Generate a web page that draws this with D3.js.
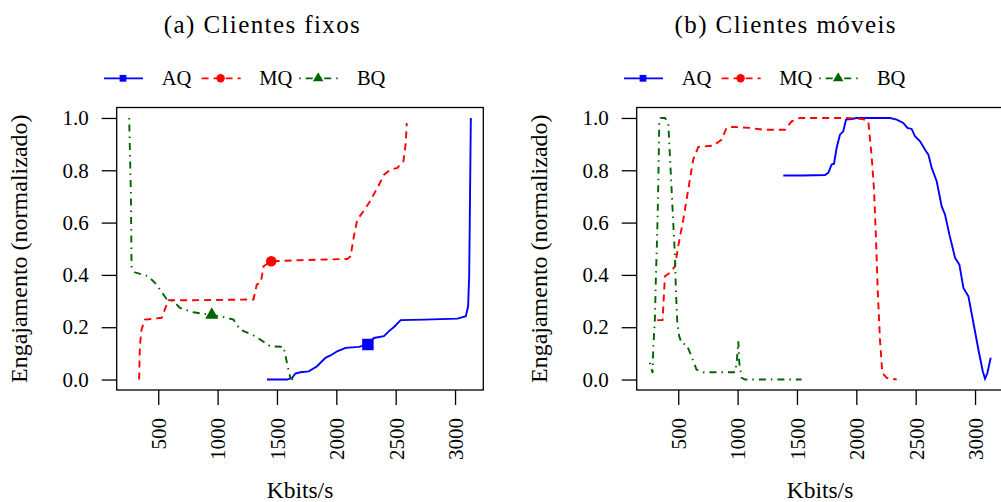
<!DOCTYPE html>
<html>
<head>
<meta charset="utf-8">
<script src="https://cdn.jsdelivr.net/npm/d3@7"></script>
<style>
  body { margin: 0; background: #fff; }
</style>
</head>
<body>
<script>
// values (x in Kbits/s, y = normalised engagement)
var series_names = ["AQ", "MQ", "BQ"];
var panel_titles = ["(a) Clientes fixos", "(b) Clientes móveis"];
var x_ticks = [500, 1000, 1500, 2000, 2500, 3000];
var y_ticks = [0, 0.2, 0.4, 0.6, 0.8, 1.0];

var fixos_aq = [[1416,0],[1584,0],[1627,0.006],[1655,0.023],[1697,0.028],[1768,0.031],[1838,0.051],
  [1908,0.083],[1951,0.092],[2007,0.108],[2078,0.121],[2190,0.125],[2266,0.134],[2317,0.159],
  [2401,0.166],[2444,0.185],[2486,0.201],[2542,0.227],[2739,0.229],[3021,0.233],[3091,0.242],
  [3110,0.280],[3119,0.395],[3124,0.599],[3133,1.0]];
var fixos_mq = [[339,0],[345,0.127],[359,0.191],[387,0.229],[528,0.236],[556,0.268],[584,0.303],
  [768,0.303],[1302,0.306],[1330,0.363],[1364,0.372],[1387,0.433],[1452,0.452],[1669,0.456],
  [2092,0.461],[2120,0.471],[2148,0.548],[2176,0.611],[2218,0.637],[2275,0.675],[2345,0.732],
  [2402,0.783],[2458,0.803],[2514,0.809],[2565,0.834],[2585,0.904],[2593,0.981]];
var fixos_bq = [[255,1.0],[270,0.70],[275,0.433],[303,0.41],[415,0.395],[472,0.37],[514,0.344],
  [570,0.308],[627,0.30],[683,0.274],[796,0.257],[951,0.247],[1077,0.236],[1134,0.229],
  [1190,0.191],[1317,0.166],[1444,0.127],[1556,0.125],[1590,0.051],[1613,0.006],[1635,0]];
var fixos_markers = [[2266,0.134],[1452,0.452],[951,0.247]];

var moveis_aq = [[1385,0.780],[1553,0.780],[1736,0.782],[1764,0.790],[1792,0.822],[1812,0.825],
  [1834,0.885],[1862,0.936],[1890,0.949],[1913,0.994],[1961,0.996],[2003,1.0],[2284,1.0],
  [2340,0.994],[2396,0.981],[2430,0.962],[2466,0.958],[2494,0.930],[2537,0.911],[2587,0.873],
  [2607,0.860],[2635,0.809],[2677,0.758],[2719,0.662],[2747,0.631],[2784,0.554],[2832,0.465],
  [2868,0.439],[2902,0.350],[2944,0.318],[2986,0.217],[3028,0.115],[3065,0.032],[3084,0.003],
  [3104,0.025],[3132,0.083]];
var moveis_mq = [[323,0.227],[368,0.227],[388,0.395],[430,0.408],[472,0.433],[500,0.510],
  [542,0.611],[584,0.726],[626,0.841],[669,0.889],[795,0.894],[865,0.917],[907,0.962],
  [963,0.966],[1104,0.962],[1216,0.955],[1399,0.955],[1455,0.987],[1525,1.0],[1722,1.0],
  [1919,1.0],[2053,0.996],[2101,0.987],[2129,0.854],[2149,0.726],[2166,0.535],[2180,0.344],
  [2199,0.153],[2219,0.025],[2256,0.006],[2340,0]];
var moveis_bq = [[261,0.064],[284,0.025],[289,0.115],[303,0.229],[312,0.395],[323,0.561],
  [331,0.726],[340,0.981],[351,1.0],[388,1.0],[416,0.981],[430,0.854],[444,0.726],[458,0.599],
  [472,0.471],[480,0.344],[492,0.217],[508,0.166],[528,0.138],[570,0.134],[612,0.089],
  [654,0.038],[711,0.028],[823,0.028],[978,0.028],[992,0.064],[1006,0.146],[1014,0.064],
  [1034,0.006],[1062,0],[1273,0],[1539,0]];

var panel_series = [[fixos_aq, fixos_mq, fixos_bq], [moveis_aq, moveis_mq, moveis_bq]];
var panel_markers = [fixos_markers, []];

// layout / styles
var W = 1001, H = 502;
var frame_left = 116.7, frame_top = 107.5, frame_w = 366.6, frame_h = 282.5;
var panel_dx = 520;
var title_x = [262.5, 785.8];
var serif = "'Liberation Serif', 'Times New Roman', 'DejaVu Serif', serif";
var colors = {AQ: "#0000ff", MQ: "#ff0000", BQ: "#006400"};
var dashes = {AQ: null, MQ: "7,5", BQ: "1.5,5,7,5"};
var symbols = {AQ: d3.symbolSquare, MQ: d3.symbolCircle, BQ: d3.symbolTriangle};
var big_size = {AQ: 132, MQ: 88, BQ: 75};
var small_size = {AQ: 46, MQ: 55, BQ: 48};

var svg = d3.select("body").append("svg")
    .attr("width", W)
    .attr("height", H)
    .style("font-family", serif);

var x = d3.scaleLinear().domain([150, 3238]).range([0, frame_w]);
var y = d3.scaleLinear().domain([-0.04, 1.04]).range([frame_h, 0]);

var line = d3.line()
    .x(function(d) { return x(d[0]); })
    .y(function(d) { return y(d[1]); });

panel_titles.forEach(function(title, p) {
  var ox = p * panel_dx;

  // title
  svg.append("text")
    .attr("x", title_x[p])
    .attr("y", 32.5)
    .attr("text-anchor", "middle")
    .style("font-family", serif)
    .style("font-size", "25px")
    .style("letter-spacing", "1.4px")
    .text(title);

  // legend
  series_names.forEach(function(name, i) {
    var lx = 104 + ox + i * 97.6;
    svg.append("line")
      .attr("x1", lx).attr("x2", lx + 39)
      .attr("y1", 78.3).attr("y2", 78.3)
      .attr("stroke", colors[name])
      .attr("stroke-width", 1.8)
      .attr("stroke-dasharray", dashes[name]);
    svg.append("path")
      .attr("d", d3.symbol().type(symbols[name]).size(small_size[name]))
      .attr("transform", "translate(" + (lx + 19) + "," + 78.3 + ")")
      .attr("fill", colors[name]);
    svg.append("text")
      .attr("x", lx + 57.7)
      .attr("y", 85)
      .style("font-family", serif)
      .style("font-size", "20.5px")
      .text(name);
  });

  var g = svg.append("g")
      .attr("transform", "translate(" + (frame_left + ox) + "," + frame_top + ")");

  // y axis
  var ya = g.append("g")
      .call(d3.axisLeft(y).tickValues(y_ticks).tickFormat(d3.format(".1f"))
        .tickSize(15).tickPadding(13));
  ya.select(".domain").remove();
  ya.selectAll("line").attr("stroke", "#000").attr("stroke-width", 1.3);
  ya.selectAll("text")
      .attr("fill", "#000")
      .style("font-family", serif)
      .style("font-size", "21px");

  // x axis
  var xa = g.append("g")
      .attr("transform", "translate(0," + frame_h + ")")
      .call(d3.axisBottom(x).tickValues(x_ticks).tickFormat(d3.format("d")).tickSize(15));
  xa.select(".domain").remove();
  xa.selectAll("line").attr("stroke", "#000").attr("stroke-width", 1.3);
  xa.selectAll("text")
      .attr("transform", "rotate(-90)")
      .attr("x", -28)
      .attr("y", 0)
      .attr("dy", "0.35em")
      .attr("text-anchor", "end")
      .attr("fill", "#000")
      .style("font-family", serif)
      .style("font-size", "21px");

  // series
  panel_series[p].forEach(function(s, i) {
    var name = series_names[i];
    g.append("path")
      .datum(s)
      .attr("d", line)
      .attr("fill", "none")
      .attr("stroke", colors[name])
      .attr("stroke-width", 1.9)
      .attr("stroke-dasharray", dashes[name]);
  });

  // markers
  g.selectAll("path.marker")
    .data(panel_markers[p])
    .enter().append("path")
      .attr("class", "marker")
      .attr("d", function(d, i) { return d3.symbol().type(symbols[series_names[i]]).size(big_size[series_names[i]])(); })
      .attr("transform", function(d) { return "translate(" + x(d[0]) + "," + y(d[1]) + ")"; })
      .attr("fill", function(d, i) { return colors[series_names[i]]; });

  // frame
  g.append("rect")
    .attr("width", frame_w)
    .attr("height", frame_h)
    .attr("fill", "none")
    .attr("stroke", "#000")
    .attr("stroke-width", 1.3);

  // axis labels
  svg.append("text")
    .attr("transform", "translate(" + (27 + ox) + "," + (frame_top + frame_h / 2) + ") rotate(-90)")
    .attr("text-anchor", "middle")
    .style("font-family", serif)
    .style("font-size", "24px")
    .text("Engajamento (normalizado)");

  svg.append("text")
    .attr("x", frame_left + ox + frame_w / 2)
    .attr("y", 498)
    .attr("text-anchor", "middle")
    .style("font-family", serif)
    .style("font-size", "23.5px")
    .text("Kbits/s");
});
</script>
</body>
</html>
